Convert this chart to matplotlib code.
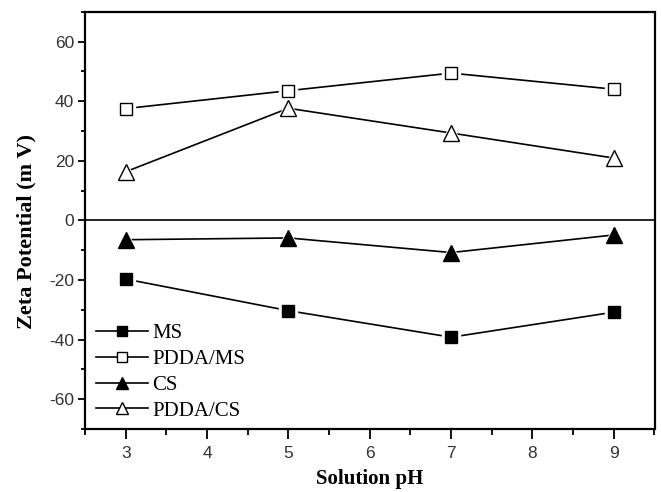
import matplotlib
matplotlib.use("Agg")
import matplotlib.pyplot as plt
from matplotlib.ticker import MultipleLocator

ph = [3, 5, 7, 9]
ms = [-19.7, -30.3, -39.2, -30.8]
pdda_ms = [37.5, 43.5, 49.4, 44.0]
cs = [-6.5, -5.9, -10.8, -4.9]
pdda_cs = [16.3, 37.6, 29.3, 20.9]

plt.rcParams['axes.unicode_minus'] = False

fig = plt.figure(figsize=(6.61, 4.92), dpi=100)
ax = fig.add_axes([85/661, 1-429/492, (654.5-85)/661, (429-11.7)/492])

series = [
    ("MS", ms, 's', 'black', 9.2),
    ("PDDA/MS", pdda_ms, 's', 'white', 9.2),
    ("CS", cs, '^', 'black', 11),
    ("PDDA/CS", pdda_cs, '^', 'white', 11),
]

ax.axhline(0, color='black', lw=1.2, zorder=1)
for i, (lab, vals, mk, fc, ms_) in enumerate(series):
    ax.plot(ph, vals, '-', color='black', lw=1.2, zorder=2 + 3*i)
    ax.plot(ph, vals, ls='none', marker=mk, ms=ms_ + 4, mfc='white', mec='white', zorder=3 + 3*i)
    ax.plot(ph, vals, ls='none', marker=mk, ms=ms_, mfc=fc, mec='black', mew=1.0, zorder=4 + 3*i)

# legend proxies
handles = []
for lab, vals, mk, fc, ms_ in series:
    h, = ax.plot([], [], '-', color='black', lw=1.2, marker=mk, ms=ms_ * 0.85, mfc=fc, mec='black', mew=1.0, label=lab)
    handles.append(h)

leg = ax.legend(handles=handles, loc='lower left', bbox_to_anchor=(0.005, 0.0), frameon=False,
                prop={'family': ['Liberation Serif', 'DejaVu Serif'], 'size': 15},
                handlelength=2.5, handletextpad=0.2, labelspacing=0.3, borderaxespad=0.0)

ax.set_xlim(2.5, 9.5)
ax.set_ylim(-70, 70)
ax.xaxis.set_major_locator(MultipleLocator(1))
ax.xaxis.set_minor_locator(MultipleLocator(0.5))
ax.yaxis.set_major_locator(MultipleLocator(20))
ax.yaxis.set_minor_locator(MultipleLocator(10))

ax.tick_params(axis='x', which='major', direction='out', length=7, width=1.3, pad=5)
ax.tick_params(axis='x', which='minor', direction='out', length=4, width=1.3)
ax.tick_params(axis='y', which='major', direction='out', length=5, width=1.3, pad=3)
ax.tick_params(axis='y', which='minor', direction='out', length=3, width=1.3)
ax.tick_params(top=False, right=False, which='both')

for lbl in ax.get_xticklabels() + ax.get_yticklabels():
    lbl.set_family(['Liberation Sans', 'DejaVu Sans'])
    lbl.set_fontsize(12.5)
    lbl.set_color('#333333')

for sp in ax.spines.values():
    sp.set_linewidth(1.6)

ax.set_xlabel("Solution pH", fontsize=15, fontweight='bold', family=['Liberation Serif', 'DejaVu Serif'], labelpad=6)
ax.set_ylabel("Zeta Potential (m V)", fontsize=16, fontweight='bold', family=['Liberation Serif', 'DejaVu Serif'])
ax.yaxis.set_label_coords(-0.085, 0.474)

fig.savefig("out.png", dpi=100)
